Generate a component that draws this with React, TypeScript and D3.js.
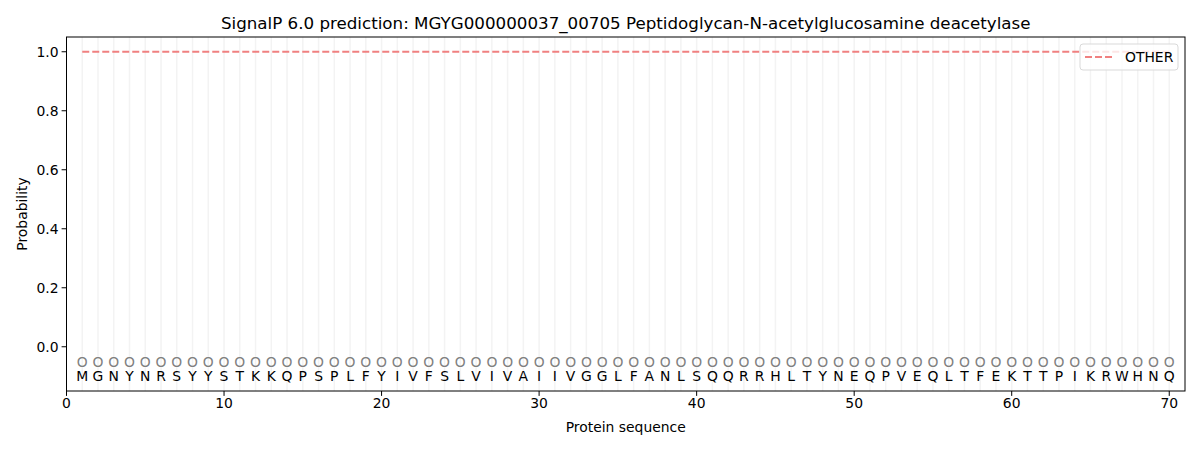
import React from "react";
import * as d3 from "d3";

const sequence = "MGNYNRSYYSTKKQPSPLFYIVFSLVIVAIIVGGLFANLSQQRRHLTYNEQPVEQLTFEKTTPIKRWHNQ".split("");
const positions = sequence.map((_, i) => i + 1);
const otherProb = positions.map(() => 1.0);
const predictedLabels = positions.map(() => "O");
const xTicks = [0, 10, 20, 30, 40, 50, 60, 70];
const yTicks = [0.0, 0.2, 0.4, 0.6, 0.8, 1.0];
const title = "SignalP 6.0 prediction: MGYG000000037_00705 Peptidoglycan-N-acetylglucosamine deacetylase";

export default function App() {
  const W = 1200, H = 450;
  const left = 66.5, right = 1185, top = 37, bottom = 391;
  const x = d3.scaleLinear().domain([0, 71]).range([left, right]);
  const y = d3.scaleLinear().domain([-0.15, 1.05]).range([bottom, top]);
  const font = "DejaVu Sans, sans-serif";
  const line = d3.line<number>().x((_, i) => x(positions[i])).y((d) => y(d));
  return (
    <div style={{ margin: -8 }}>
      <svg width={W} height={H} style={{ display: "block", background: "#fff" }} fontFamily={font}>
        {positions.map((p) => (
          <line key={"g" + p} x1={x(p)} x2={x(p)} y1={top} y2={bottom} stroke="#f3f3f3" strokeWidth={1.5} />
        ))}
        <path d={line(otherProb) || ""} fill="none" stroke="#f08080" strokeWidth={2} strokeDasharray="7,3" />
        {positions.map((p, i) => (
          <text key={"o" + p} x={x(p)} y={y(-0.05)} textAnchor="middle" dominantBaseline="central" fontSize={13.9} fill="#808080">
            {predictedLabels[i]}
          </text>
        ))}
        {positions.map((p, i) => (
          <text key={"t" + p} x={x(p)} y={y(-0.1)} textAnchor="middle" dominantBaseline="central" fontSize={13.9} fill="#000">
            {sequence[i]}
          </text>
        ))}
        <rect x={left} y={top} width={right - left} height={bottom - top} fill="none" stroke="#000" strokeWidth={1} />
        {xTicks.map((t) => (
          <g key={"xt" + t}>
            <line x1={x(t)} x2={x(t)} y1={bottom} y2={bottom + 4.9} stroke="#000" />
            <text x={x(t)} y={bottom + 17} textAnchor="middle" fontSize={13.9}>{t}</text>
          </g>
        ))}
        {yTicks.map((t) => (
          <g key={"yt" + t}>
            <line x1={left - 4.9} x2={left} y1={y(t)} y2={y(t)} stroke="#000" />
            <text x={left - 8} y={y(t)} textAnchor="end" dominantBaseline="central" fontSize={13.9}>{t.toFixed(1)}</text>
          </g>
        ))}
        <text x={(left + right) / 2} y={432} textAnchor="middle" fontSize={13.9}>Protein sequence</text>
        <text transform={`translate(${27},${(top + bottom) / 2}) rotate(-90)`} textAnchor="middle" fontSize={13.9}>Probability</text>
        <text x={(left + right) / 2} y={29} textAnchor="middle" fontSize={16.7}>{title}</text>
        <g>
          <rect x={1080} y={44} width={98} height={26} rx={3} fill="#fff" fillOpacity={0.8} stroke="#d9d9d9" />
          <line x1={1085} x2={1113} y1={57} y2={57} stroke="#f08080" strokeWidth={2} strokeDasharray="7,3" />
          <text x={1125} y={57} dominantBaseline="central" fontSize={13.9}>OTHER</text>
        </g>
      </svg>
    </div>
  );
}
